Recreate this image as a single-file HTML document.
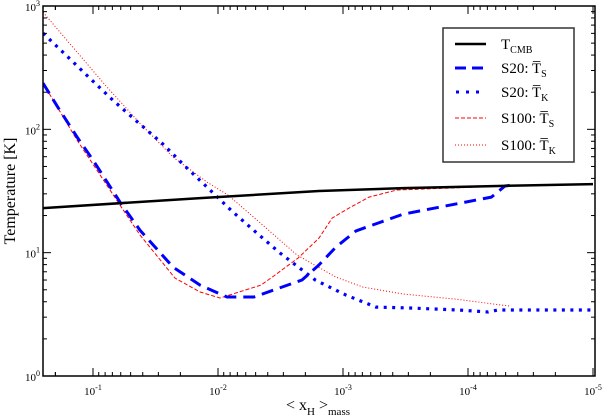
<!DOCTYPE html>
<html><head><meta charset="utf-8"><style>
html,body{margin:0;padding:0;background:#fff}
svg{display:block;font-family:"Liberation Serif",serif}
</style></head><body>
<svg id="chart" width="603" height="417" xmlns="http://www.w3.org/2000/svg">
<rect width="603" height="417" fill="#fff"/>
<g id="marks"></g>
<g id="axes"></g>
<text transform="translate(15,191) rotate(-90)" text-anchor="middle" font-size="16">Temperature [K]</text>
<text x="318" y="410" text-anchor="middle" font-size="16">&lt; x<tspan font-size="11" dy="5">H</tspan><tspan dy="-5"> &gt;</tspan><tspan font-size="11" dy="5">mass</tspan></text>
<g>
<rect x="443" y="28" width="131" height="134" fill="#fff" stroke="#333" stroke-width="1.5"/>
<line x1="455" y1="44" x2="486" y2="44" stroke="#000" stroke-width="2.5"/>
<text x="501" y="49" font-size="15">T<tspan font-size="10" dy="4">CMB</tspan></text>
<line x1="455" y1="68" x2="486" y2="68" stroke="#0000ff" stroke-width="3" stroke-dasharray="11,6"/>
<text x="501" y="73" font-size="15">S20:  T̅<tspan font-size="10" dy="4">S</tspan></text>
<line x1="456" y1="92" x2="486" y2="92" stroke="#0000ff" stroke-width="3" stroke-dasharray="3,7"/>
<text x="501" y="97" font-size="15">S20:  T̅<tspan font-size="10" dy="4">K</tspan></text>
<line x1="455" y1="118" x2="486" y2="118" stroke="#ff0000" stroke-width="1" stroke-dasharray="4,2"/>
<text x="501" y="123" font-size="15">S100: T̅<tspan font-size="10" dy="4">S</tspan></text>
<line x1="455" y1="145" x2="486" y2="145" stroke="#ff0000" stroke-width="1" stroke-dasharray="1,2"/>
<text x="501" y="150" font-size="15">S100: T̅<tspan font-size="10" dy="4">K</tspan></text>
</g>
</svg>
<script>
const cmbX=[0.251,0.0139,0.00156,0.000331,5.75e-5,1e-5];
const cmbT=[23,27.7,31.6,33.4,34.7,36];
const s20TsX=[0.251,0.191,0.134,0.1,0.0608,0.0421,0.0229,0.0139,0.00847,0.00515,0.00213,0.00156,0.00114,0.000787,0.000331,6.5e-5,5.06e-5,4.45e-5];
const s20TsT=[237,151,86.5,56.3,25.7,15.2,7.64,5.46,4.37,4.37,6.0,7.94,11.1,15,20.5,28.2,34.7,35.3];
const s100TsX=[0.251,0.134,0.0608,0.0421,0.0221,0.0139,0.00964,0.00453,0.0035,0.00229,0.00156,0.00122,0.000895,0.000619,0.00037,5.06e-5,4.6e-5];
const s100TsT=[237,81.7,24.3,13.9,6.22,4.8,4.29,5.46,6.58,9.04,13.1,19.1,23,28.2,32.2,34.7,35.3];
const s20TkX=[0.251,0.161,0.106,0.0692,0.0437,0.0281,0.0184,0.012,0.00773,0.00488,0.00319,0.00167,0.000946,0.000545,0.000291,0.00012,6.9e-5,5.75e-5,1.14e-5,1e-5];
const s20TkT=[602,392,260,172,114,77.3,50.3,33.4,21.7,14.4,9.93,6.0,4.53,3.62,3.56,3.43,3.3,3.43,3.43,3.43];
const s100TkX=[0.251,0.145,0.0773,0.0421,0.0229,0.0122,0.00832,0.00488,0.00233,0.00114,0.000692,0.000331,0.000129,4.6e-5];
const s100TkT=[891,463,220,112,59.5,37.3,29.3,18.4,9.56,6.34,5.26,4.62,4.21,3.69];
const xTickExps=[-1,-2,-3,-4,-5];
const yTickExps=[0,1,2,3];

const L=43,R=593,T=6,B=376;
const xDec=125, yDec=(B-T)/3;
function sx(v){return 93+(-1-Math.log10(v))*xDec;}
function sy(v){return B-Math.log10(v)*yDec;}
const NS="http://www.w3.org/2000/svg";
const marks=document.getElementById('marks'), axes=document.getElementById('axes');
function mk(tag,attrs,parent){const e=document.createElementNS(NS,tag);for(const k in attrs)e.setAttribute(k,attrs[k]);parent.appendChild(e);return e;}
const clip=mk('clipPath',{id:'pc'},marks);mk('rect',{x:L,y:T,width:R-L+2,height:B-T},clip);
function series(xs,ys,stroke,w,dash,name){
  const d=xs.map((x,i)=>(i?'L':'M')+sx(x).toFixed(1)+' '+sy(ys[i]).toFixed(1)).join(' ');
  const p=mk('path',{d:d,fill:'none',stroke:stroke,'stroke-width':w,'clip-path':'url(#pc)','stroke-linejoin':'round'},marks);
  if(dash)p.setAttribute('stroke-dasharray',dash);
  
  
}
series(s100TkX,s100TkT,'#ff0000',1,'1,2','s100-tk-line');
series(s100TsX,s100TsT,'#ff0000',1,'4,2','s100-ts-line');
series(s20TkX,s20TkT,'#0000ff',3.2,'3,5.5','s20-tk-line');
series(s20TsX,s20TsT,'#0000ff',3,'12,7','s20-ts-line');
series(cmbX,cmbT,'#000',2.5,null,'tcmb-line');

mk('rect',{x:L,y:T,width:595-L,height:B-T,fill:'none',stroke:'#000','stroke-width':1.5},axes);
// x ticks
for(let e=-1;e>=-5;e--){
  for(let m=1;m<=9;m++){
    const v=m*Math.pow(10,e);
    const px=sx(v); if(px<L||px>R+1)continue;
    const len=m===1?8:4;
    mk('line',{x1:px,y1:B,x2:px,y2:B-len,stroke:'#000','stroke-width':1},axes);
    mk('line',{x1:px,y1:T,x2:px,y2:T+len,stroke:'#000','stroke-width':1},axes);
  }
}
// extra decade above 10^-1 (values 0.2 etc.)
for(let m=2;m<=2.5;m++){}
[0.2].forEach(v=>{const px=sx(v);mk('line',{x1:px,y1:B,x2:px,y2:B-4,stroke:'#000'},axes);mk('line',{x1:px,y1:T,x2:px,y2:T+4,stroke:'#000'},axes);});
xTickExps.forEach(e=>{
  const t=mk('text',{x:sx(Math.pow(10,e)),y:395,'text-anchor':'middle','font-size':11},axes);
  t.innerHTML='10<tspan font-size="8" dy="-5">'+e+'</tspan>';
  
  
});
for(let e=0;e<3;e++){
  for(let m=1;m<=9;m++){
    const py=sy(m*Math.pow(10,e));const len=m===1?8:4;
    mk('line',{x1:L,y1:py,x2:L+len,y2:py,stroke:'#000'},axes);
    mk('line',{x1:595,y1:py,x2:595-len,y2:py,stroke:'#000'},axes);
  }
}
yTickExps.forEach(e=>{
  const t=mk('text',{x:40,y:sy(Math.pow(10,e))+5,'text-anchor':'end','font-size':11},axes);
  t.innerHTML='10<tspan font-size="8" dy="-5">'+e+'</tspan>';
  
  
});
</script>
</body></html>
